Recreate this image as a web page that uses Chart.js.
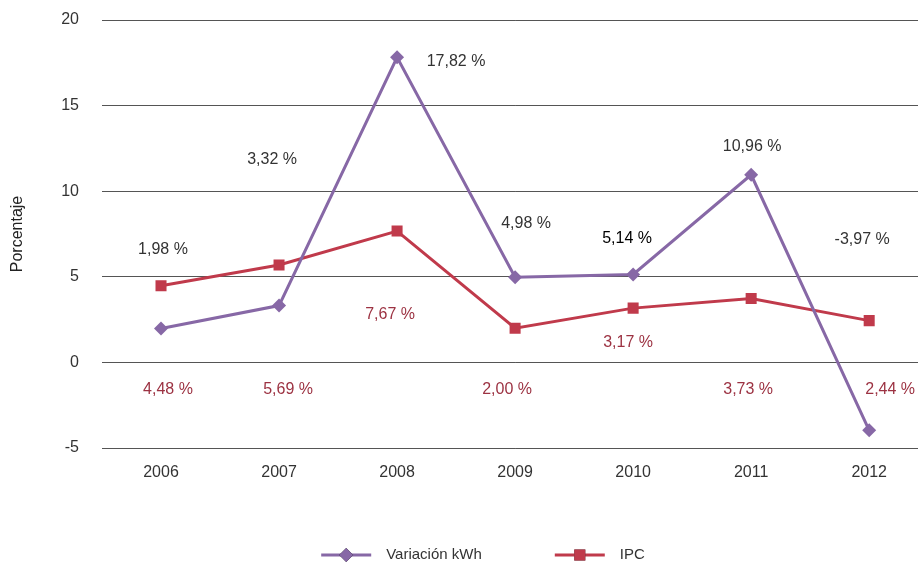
<!DOCTYPE html>
<html>
<head>
<meta charset="utf-8">
<script src="https://cdn.jsdelivr.net/npm/chart.js@4.4.1/dist/chart.umd.min.js"></script>
<style>
  html, body { margin: 0; padding: 0; background: #fff; overflow: hidden; }
  #wrap { width: 936px; height: 564px; }
</style>
</head>
<body>
<div id="wrap"><canvas id="chart" width="936" height="564"></canvas></div>
<script>
var FONT = "'Liberation Sans', Arial, sans-serif";

var years = ['2006', '2007', '2008', '2009', '2010', '2011', '2012'];
var kwh = [1.98, 3.32, 17.82, 4.98, 5.14, 10.96, -3.97];
var ipc = [4.48, 5.69, 7.67, 2.00, 3.17, 3.73, 2.44];
var kwhText = ['1,98 %', '3,32 %', '17,82 %', '4,98 %', '5,14 %', '10,96 %', '-3,97 %'];
var ipcText = ['4,48 %', '5,69 %', '7,67 %', '2,00 %', '3,17 %', '3,73 %', '2,44 %'];
var yTicks = [-5, 0, 5, 10, 15, 20];

// where the value labels sit: height in axis units, sideways nudge in px
var kwhLabelY = [6.6, 11.86, 17.55, 8.12, 7.24, 12.63, 7.18];
var kwhLabelDx = [2, -7, 59, 11, -6, 1, -7];
var ipcLabelY = [-1.6, -1.6, 2.79, -1.6, 1.15, -1.6, -1.6];
var ipcLabelDx = [7, 9, -7, -8, -5, -3, 21];

var PURPLE = '#8768a6';
var RED = '#c03a4b';

var valueLabels = {
  id: 'valueLabels',
  afterDatasetsDraw: function(chart) {
    var ctx = chart.ctx;
    var ys = chart.scales.y;
    var sets = [
      {meta: chart.getDatasetMeta(0), text: kwhText, ly: kwhLabelY, dx: kwhLabelDx, color: '#333'},
      {meta: chart.getDatasetMeta(1), text: ipcText, ly: ipcLabelY, dx: ipcLabelDx, color: '#9c3242'}
    ];
    ctx.save();
    ctx.textAlign = 'center';
    ctx.textBaseline = 'middle';
    sets.forEach(function(s) {
      s.meta.data.forEach(function(pt, j) {
        ctx.fillStyle = s.color;
        ctx.font = '16px ' + FONT;
        if (s.text[j] === '5,14 %') {
          ctx.fillStyle = '#000';
        }
        ctx.fillText(s.text[j], pt.x + s.dx[j], ys.getPixelForValue(s.ly[j]));
      });
    });
    ctx.restore();
  }
};

var lineLegend = {
  id: 'lineLegend',
  afterDraw: function(chart) {
    var ctx = chart.ctx;
    var y = 555, lineW = 50, gapText = 15, gapItem = 73, center = 483;
    ctx.save();
    ctx.font = '15px ' + FONT;
    ctx.textBaseline = 'middle';
    var items = chart.data.datasets;
    var total = 0;
    items.forEach(function(d, i) {
      total += lineW + gapText + ctx.measureText(d.label).width;
      if (i < items.length - 1) total += gapItem;
    });
    var x = center - total / 2;
    items.forEach(function(d) {
      ctx.strokeStyle = d.borderColor;
      ctx.lineWidth = 3;
      ctx.beginPath();
      ctx.moveTo(x, y);
      ctx.lineTo(x + lineW, y);
      ctx.stroke();
      Chart.helpers.drawPoint(ctx, {
        pointStyle: d.pointStyle, radius: d.pointRadius, borderWidth: 0
      }, x + lineW / 2, y);
      ctx.fillStyle = d.borderColor;
      ctx.fill();
      ctx.fillStyle = '#333';
      ctx.textAlign = 'left';
      ctx.fillText(d.label, x + lineW + gapText, y);
      x += lineW + gapText + ctx.measureText(d.label).width + gapItem;
    });
    ctx.restore();
  }
};

new Chart(document.getElementById('chart'), {
  type: 'line',
  data: {
    labels: years,
    datasets: [{
      label: 'Variación kWh',
      data: kwh,
      borderColor: PURPLE,
      backgroundColor: PURPLE,
      borderWidth: 3,
      pointStyle: 'rectRot',
      pointRadius: 7,
      pointBorderWidth: 0,
      tension: 0
    }, {
      label: 'IPC',
      data: ipc,
      borderColor: RED,
      backgroundColor: RED,
      borderWidth: 3,
      pointStyle: 'rect',
      pointRadius: 7.8,
      pointBorderWidth: 0,
      tension: 0
    }]
  },
  options: {
    responsive: false,
    animation: false,
    devicePixelRatio: 1,
    layout: { padding: { top: 20, left: 0, right: 0, bottom: 0 } },
    plugins: {
      legend: { display: false },
      tooltip: { enabled: false }
    },
    scales: {
      x: {
        offset: true,
        grid: { display: false, drawTicks: false },
        border: { display: false },
        ticks: { color: '#333', font: { family: FONT, size: 16 }, padding: 15 },
        afterFit: function(s) {
          s.height = 116;
          s.paddingLeft = 0;
          s.paddingRight = 0;
        }
      },
      y: {
        min: -5,
        max: 20,
        afterBuildTicks: function(s) { s.ticks = yTicks.map(function(v) { return {value: v}; }); },
        grid: { color: '#555', lineWidth: 1, drawTicks: false },
        border: { display: false },
        ticks: { color: '#333', font: { family: FONT, size: 16 }, padding: 23 },
        title: {
          display: true,
          text: 'Porcentaje',
          color: '#222',
          font: { family: FONT, size: 16 },
          padding: { top: 8, bottom: 0 }
        },
        afterFit: function(s) {
          s.width = 102;
          s.paddingTop = 0;
          s.paddingBottom = 0;
        }
      }
    }
  },
  plugins: [valueLabels, lineLegend]
});
</script>
</body>
</html>
